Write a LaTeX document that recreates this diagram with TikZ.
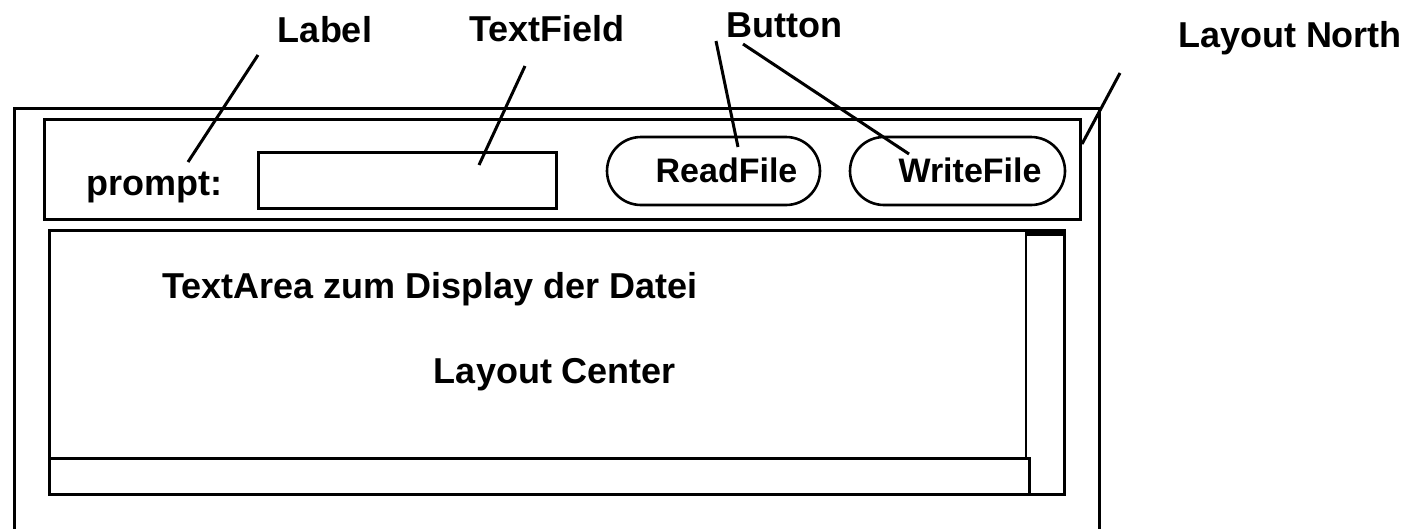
\documentclass[tikz,border=0pt]{standalone}
\usepackage{fontspec}
\setmainfont{Liberation Sans}
\usetikzlibrary{shapes.misc}
\begin{document}
\begin{tikzpicture}[x=1pt,y=-1pt,
  frame/.style={draw, line width=3pt, inner sep=0pt, outer sep=0pt, rectangle},
  btn/.style={draw, line width=2.6pt, inner sep=0pt, outer sep=0pt, rounded rectangle},
  lbl/.style={font=\fontsize{36}{43}\selectfont\bfseries, inner sep=0pt, anchor=base},
  btntext/.style={font=\fontsize{34}{41}\selectfont\bfseries, inner sep=0pt, anchor=base},
  pointer/.style={line width=3pt}]
\useasboundingbox (0,0) rectangle (1411,528);

% window frame, open at the bottom edge
\draw[line width=3pt] (14,540) -- (14,108) -- (1099,108) -- (1099,540);

% north panel with its widgets
\node[frame, minimum width=1036, minimum height=100] (north) at (562,169) {};
\node[frame, minimum width=298, minimum height=56] (field) at (407,180) {};
\node[btn, minimum width=213, minimum height=68] (readbtn) at (713.5,171) {};
\node[btn, minimum width=215, minimum height=68] (writebtn) at (957.5,171) {};
\node[lbl] (prompt) at (154,195) {prompt:};
\node[btntext] (readtxt) at (726.5,182) {ReadFile};
\node[btntext] (writetxt) at (970,182) {WriteFile};

% center text area with scrollbars
\node[frame, minimum width=1015, minimum height=264] (area) at (556.5,362) {};
\fill (1025,228.5) rectangle (1065,236);
\draw[line width=2pt] (1026,236) -- (1026,458);
\node[frame, minimum width=980, minimum height=36] (hscroll) at (539,476) {};
\node[lbl] (areatxt) at (430,298) {TextArea zum Display der Datei};
\node[lbl] (centertxt) at (555,383) {Layout Center};

% captions above the window
\node[lbl] (cLabel) at (325,42) {Label};
\node[lbl] (cField) at (547,41) {TextField};
\node[lbl] (cButton) at (784.5,37) {Button};
\node[lbl] (cNorth) at (1290,47) {Layout North};

% pointer end points
\coordinate (pLa) at (258,55);   \coordinate (pLb) at (188,162);
\coordinate (pFa) at (525,66);   \coordinate (pFb) at (479,165);
\coordinate (pRa) at (716,41);   \coordinate (pRb) at (738,147);
\coordinate (pWa) at (743,44);   \coordinate (pWb) at (909,154);
\coordinate (pNa) at (1120,73);  \coordinate (pNb) at (1082,144);

\draw[pointer] (pLa) -- (pLb);
\draw[pointer] (pFa) -- (pFb);
\draw[pointer] (pRa) -- (pRb);
\draw[pointer] (pWa) -- (pWb);
\draw[pointer] (pNa) -- (pNb);
\end{tikzpicture}
\end{document}
